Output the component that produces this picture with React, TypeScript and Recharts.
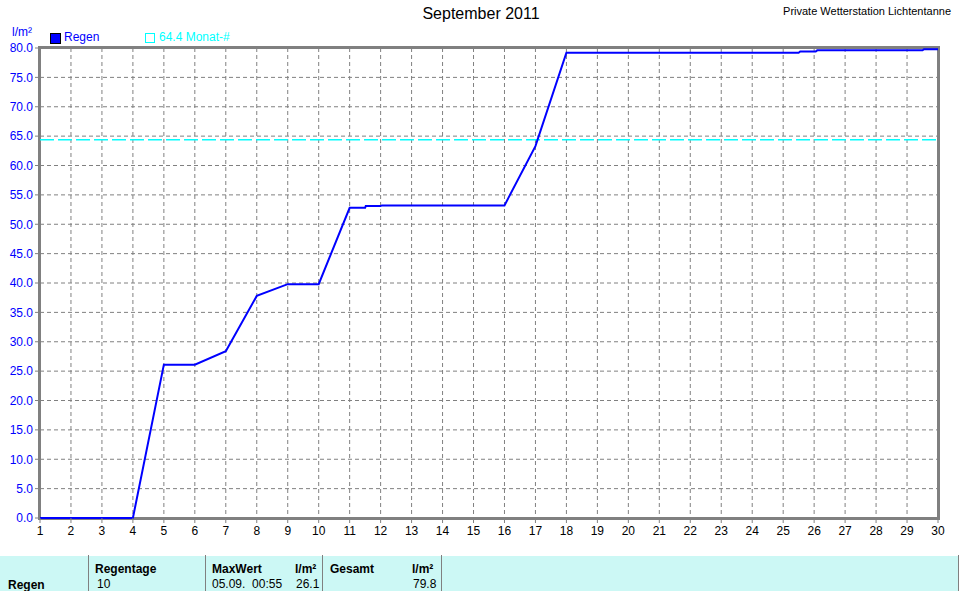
import React from 'react'
import {
  LineChart,
  Line,
  XAxis,
  YAxis,
  CartesianGrid,
  ReferenceLine,
} from 'recharts'

// Regen September 2011, Summenkurve (l/m²) – Zeitpunkt in Tagen
const DAYS = [1, 2, 3, 4, 5, 6, 7, 8, 9, 10, 11, 11.5, 11.52, 12, 12.04, 16, 17, 18, 25.5, 25.55, 26.05, 26.1, 29.5, 29.55, 30]
const RAIN = [0, 0, 0, 0, 26.1, 26.1, 28.4, 37.8, 39.8, 39.8, 52.8, 52.8, 53.1, 53.1, 53.2, 53.2, 63.3, 79.2, 79.2, 79.4, 79.4, 79.6, 79.6, 79.8, 79.8]
const X_TICKS = Array.from({ length: 30 }, (_, i) => i + 1)
const Y_TICKS = [0, 5, 10, 15, 20, 25, 30, 35, 40, 45, 50, 55, 60, 65, 70, 75, 80]
const MONTH_AVG = 64.4

const data = DAYS.map((d, i) => ({ day: d, regen: RAIN[i] }))

const FONT = '"Liberation Sans", Arial, sans-serif'
const GRAY = '#808080'

export default function App() {
  const cell = (left: number, top: number, text: string, bold = false) => (
    <div
      style={{
        position: 'absolute',
        left,
        top,
        fontSize: 12,
        fontWeight: bold ? 'bold' : 'normal',
        color: '#000',
        whiteSpace: 'pre',
      }}
    >
      {text}
    </div>
  )

  return (
    <div
      style={{
        position: 'fixed',
        left: 0,
        top: 0,
        width: 960,
        height: 591,
        background: '#fff',
        fontFamily: FONT,
        overflow: 'hidden',
      }}
    >
      {/* Titel */}
      <div style={{ position: 'absolute', left: 0, width: 962, top: 5, textAlign: 'center', fontSize: 16 }}>
        September 2011
      </div>
      <div style={{ position: 'absolute', right: 9, top: 5, fontSize: 11 }}>Private Wetterstation Lichtentanne</div>

      {/* Einheit + Legende */}
      <div style={{ position: 'absolute', left: 12, top: 25, fontSize: 12, color: '#0000ff' }}>l/m²</div>
      <div
        style={{
          position: 'absolute',
          left: 50,
          top: 33,
          width: 9,
          height: 9,
          background: '#0000ff',
          border: '1px solid #000',
        }}
      />
      <div style={{ position: 'absolute', left: 64, top: 30, fontSize: 12, color: '#0000ff' }}>Regen</div>
      <div
        style={{
          position: 'absolute',
          left: 145,
          top: 33,
          width: 8,
          height: 8,
          border: '1px solid #00ffff',
        }}
      />
      <div style={{ position: 'absolute', left: 159, top: 30, fontSize: 12, color: '#00ffff' }}>
        {MONTH_AVG.toFixed(1)} Monat-#
      </div>

      {/* Rahmen des Diagramms, hinter dem SVG, damit die Kurve darüber liegt */}
      <div
        style={{
          position: 'absolute',
          left: 38,
          top: 46,
          width: 902,
          height: 474,
          boxSizing: 'border-box',
          border: `3px solid ${GRAY}`,
        }}
      />

      <div style={{ position: 'absolute', left: 0, top: 0 }}>
        <LineChart
          width={960}
          height={541}
          data={data}
          margin={{ top: 48, right: 22, bottom: 0, left: 0 }}
          style={{ fontFamily: FONT }}
        >
          <CartesianGrid stroke={GRAY} strokeDasharray="4 3" verticalValues={X_TICKS} horizontalValues={Y_TICKS} />
          <XAxis
            dataKey="day"
            type="number"
            domain={[1, 30]}
            ticks={X_TICKS}
            interval={0}
            height={23}
            axisLine={false}
            tickLine={{ stroke: GRAY }}
            tickSize={5}
            tickMargin={3}
            tick={{ fill: '#000', fontSize: 12 }}
          />
          <YAxis
            type="number"
            domain={[0, 80]}
            ticks={Y_TICKS}
            interval={0}
            width={40}
            axisLine={false}
            tickLine={{ stroke: GRAY }}
            tickSize={5}
            tickMargin={2}
            tick={{ fill: '#0000ff', fontSize: 12 }}
            tickFormatter={(v: number) => v.toFixed(1)}
          />
          <ReferenceLine y={MONTH_AVG} stroke="#00ffff" strokeWidth={1.5} strokeDasharray="14 4" />
          <Line
            type="linear"
            dataKey="regen"
            stroke="#0000ff"
            strokeWidth={2}
            dot={false}
            isAnimationActive={false}
          />
        </LineChart>
      </div>

      {/* Tabelle unten */}
      <div
        style={{
          position: 'absolute',
          left: 0,
          top: 556,
          width: 958,
          height: 35,
          background: '#ccf8f5',
        }}
      />
      {[88, 205, 322, 441, 958].map((x) => (
        <div key={x} style={{ position: 'absolute', left: x, top: 555, width: 1, height: 36, background: GRAY }} />
      ))}
      {cell(95, 562, 'Regentage', true)}
      {cell(212, 562, 'MaxWert', true)}
      {cell(295, 562, 'l/m²', true)}
      {cell(330, 562, 'Gesamt', true)}
      {cell(412, 562, 'l/m²', true)}
      {cell(8, 578, 'Regen', true)}
      {cell(97, 577, '10')}
      {cell(212, 577, '05.09.  00:55')}
      {cell(296, 577, '26.1')}
      {cell(413, 577, '79.8')}
    </div>
  )
}
